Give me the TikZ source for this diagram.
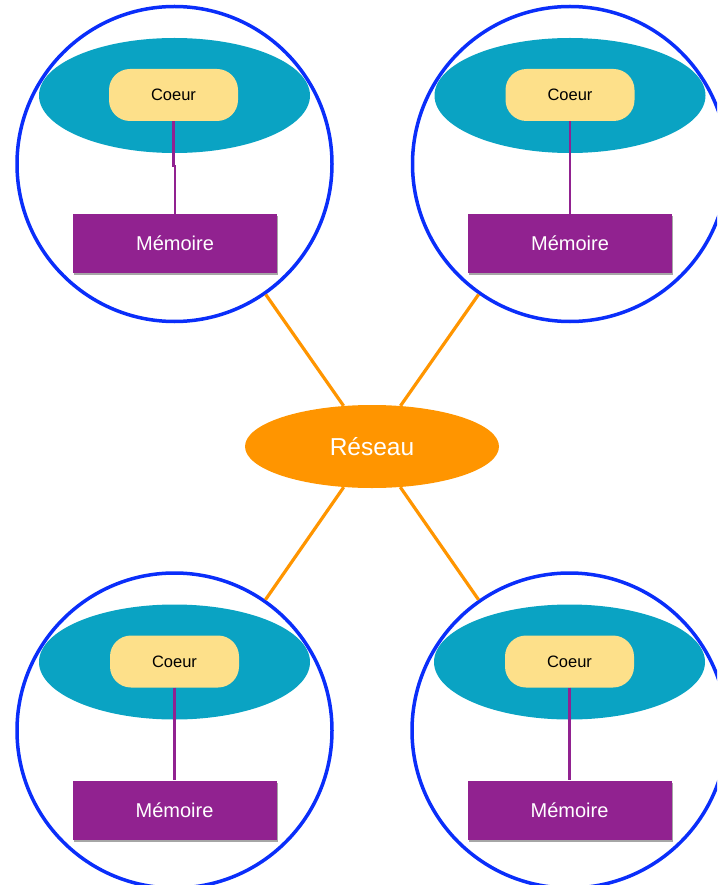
\documentclass[tikz,border=0pt]{standalone}
\usepackage{fontspec}
\setmainfont{Liberation Sans}
\usetikzlibrary{shapes.geometric,shadows}
\definecolor{ringblue}{HTML}{0A2EFA}
\definecolor{tealc}{HTML}{0AA3C3}
\definecolor{yellowc}{HTML}{FDE08A}
\definecolor{purplec}{HTML}{912290}
\definecolor{orangec}{HTML}{FF9500}
\begin{document}
\begin{tikzpicture}[x=1pt,y=-1pt,
  ring/.style={circle,draw=ringblue,line width=3.5pt,minimum size=315pt,inner sep=0pt},
  cell/.style={ellipse,fill=tealc,minimum width=271pt,minimum height=115pt,inner sep=0pt},
  coeur/.style={rectangle,rounded corners=21pt,fill=yellowc,minimum width=129pt,minimum height=52pt,inner sep=0pt,font=\fontsize{16.5}{18}\selectfont},
  mem/.style={rectangle,fill=purplec,text=white,minimum width=204pt,minimum height=59pt,inner sep=0pt,font=\fontsize{20}{22}\selectfont,
    drop shadow={shadow xshift=1pt,shadow yshift=-2pt,opacity=0.35,fill=black}},
  link/.style={draw=purplec,line width=2.2pt},
  net/.style={ellipse,fill=orangec,text=white,minimum width=254pt,minimum height=83pt,inner sep=0pt,font=\fontsize{24.5}{27}\selectfont},
  wire/.style={draw=orangec,line width=3.2pt}]
\path[use as bounding box,clip] (0,0) rectangle (717,885);
\newcommand{\cluster}[5]{%
  \begin{scope}[shift={(#2,#3)}]
    \node[cell] (e#1) at (0,-68.5) {};
    \node[coeur] (k#1) at (#4,-69) {Coeur};
    \node[mem] (m#1) at (#5,79.5) {Mémoire};
    \draw[link] (k#1.south) -- (k#1.south |- 0,2) -- (m#1.north |- 0,2) -- (m#1.north);
    \node[ring] (c#1) at (0,0) {};
  \end{scope}}
\cluster{1}{174.5}{164}{-1}{0.5}
\cluster{2}{570}{164}{0}{0}
\cluster{3}{174.5}{730.5}{0}{0}
\cluster{4}{569.5}{730.5}{0}{0}
\node[net] (net) at (372,446.5) {Réseau};
\draw[wire] (c1) -- (net);
\draw[wire] (c2) -- (net);
\draw[wire] (c3) -- (net);
\draw[wire] (c4) -- (net);
\end{tikzpicture}
\end{document}
